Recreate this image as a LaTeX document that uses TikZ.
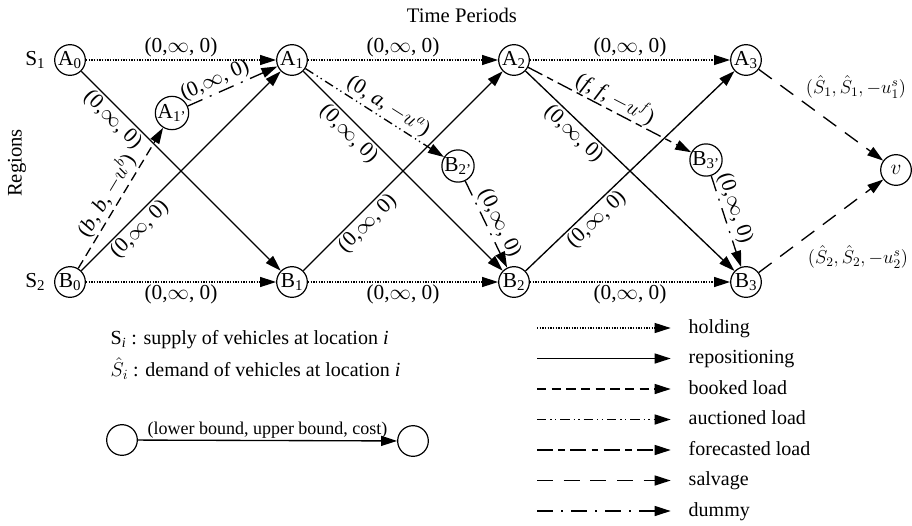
\RequirePackage{fix-cm}
\documentclass[tikz,border=0pt]{standalone}
\usepackage{fontspec}
\setmainfont{Liberation Serif}
\usetikzlibrary{arrows.meta,positioning}
\tikzset{
  st/.style={circle,draw,line width=0.9pt,minimum size=23pt,inner sep=0pt,
             font=\fontsize{16}{18}\selectfont},
  hold/.style={->,line width=0.9pt,dash pattern=on 1pt off 1pt},
  rep/.style={->,line width=1pt},
  book/.style={->,line width=1pt,dash pattern=on 7pt off 4pt},
  auct/.style={->,line width=1pt,dash pattern=on 7pt off 3pt on 1pt off 2.5pt on 1pt off 3pt},
  fcst/.style={->,line width=1pt,dash pattern=on 12pt off 4pt on 5pt off 4pt},
  salv/.style={->,line width=1pt,dash pattern=on 12pt off 8pt},
  dumm/.style={->,line width=1pt,dash pattern=on 12pt off 6pt on 1.5pt off 6pt},
}

\begin{document}
\begin{tikzpicture}[x=0.75pt,y=-0.75pt,>={Triangle[length=12pt,width=7.5pt]},
  lbl/.style={font=\fontsize{16}{18}\selectfont,inner sep=1.5pt},
  txt/.style={font=\fontsize{15}{17}\selectfont},
  key/.style={txt,anchor=west,text height=10.5pt,text depth=3pt}]
  \useasboundingbox (0,0) rectangle (912,525);
  \node[font=\fontsize{15.5}{18}\selectfont] (time) at (462,15) {Time Periods};
  \node[font=\fontsize{15.5}{18}\selectfont,rotate=90] (reg) at (17,163) {Regions};
  \node[st] (a0) at (70,60) {A\textsubscript{0}};
  \node[st] (a1) at (292,60) {A\textsubscript{1}};
  \node[st] (a2) at (514,60) {A\textsubscript{2}};
  \node[st] (a3) at (746,60) {A\textsubscript{3}};
  \node[st] (b0) at (70,282) {B\textsubscript{0}};
  \node[st] (b1) at (292,282) {B\textsubscript{1}};
  \node[st] (b2) at (514,282) {B\textsubscript{2}};
  \node[st] (b3) at (746,282) {B\textsubscript{3}};
  \node[st,minimum size=20pt] (a1p) at (172,113) {A\textsubscript{1'}};
  \node[st,minimum size=21pt] (b2p) at (458,166) {B\textsubscript{2'}};
  \node[st,minimum size=21pt] (b3p) at (706,160) {B\textsubscript{3'}};
  \node[st] (v) at (896,170) {$v$};
  \node[font=\fontsize{16}{18}\selectfont,left=3pt of a0] (s1) {S\textsubscript{1}};
  \node[font=\fontsize{16}{18}\selectfont,left=3pt of b0] (s2) {S\textsubscript{2}};
  \draw[hold] (a0) -- node[lbl,above] {(0,$\infty$, 0)} (a1);
  \draw[hold] (a1) -- node[lbl,above] {(0,$\infty$, 0)} (a2);
  \draw[hold] (a2) -- node[lbl,above] {(0,$\infty$, 0)} (a3);
  \draw[hold] (b0) -- node[lbl,below] {(0,$\infty$, 0)} (b1);
  \draw[hold] (b1) -- node[lbl,below] {(0,$\infty$, 0)} (b2);
  \draw[hold] (b2) -- node[lbl,below] {(0,$\infty$, 0)} (b3);
  \draw[rep] (a0) -- node[lbl,pos=0.2,sloped,below] {(0,$\infty$, 0)} (b1);
  \draw[rep] (b0) -- node[lbl,pos=0.25,sloped,below] {(0,$\infty$, 0)} (a1);
  \draw[rep] (a1) -- node[lbl,pos=0.27,sloped,below] {(0,$\infty$, 0)} (b2);
  \draw[rep] (b1) -- node[lbl,pos=0.28,sloped,below] {(0,$\infty$, 0)} (a2);
  \draw[rep] (a2) -- node[lbl,pos=0.27,sloped,below] {(0,$\infty$, 0)} (b3);
  \draw[rep] (b2) -- node[lbl,pos=0.3,sloped,below] {(0,$\infty$, 0)} (a3);
  \draw[book] (b0) -- node[lbl,pos=0.47,sloped,above] {(\textit{b}, \textit{b}, $-u^{b}$)} (a1p);
  \draw[dumm] (a1p) -- node[lbl,pos=0.36,sloped,above] {(0,$\infty$, 0)} (a1);
  \draw[auct] (a1) -- node[lbl,pos=0.55,sloped,above] {(0, \textit{a}, $-u^{a}$)} (b2p);
  \draw[dumm] (b2p) -- node[lbl,pos=0.55,sloped,above] {(0,$\infty$, 0)} (b2);
  \draw[fcst] (a2) -- node[lbl,pos=0.5,sloped,above,inner sep=0.5pt] {(\textit{f}, \textit{f}, $-u^{f}$)} (b3p);
  \draw[dumm] (b3p) -- node[lbl,pos=0.4,sloped,above] {(0,$\infty$, 0)} (b3);
  \draw[salv] (a3) -- (v);
  \draw[salv] (b3) -- (v);
  \node[lbl,font=\fontsize{14}{16}\selectfont] (ls1) at (856,87) {$(\hat{S}_1,\hat{S}_1,-u^{s}_1)$};
  \node[lbl,font=\fontsize{14}{16}\selectfont] (ls2) at (858,257) {$(\hat{S}_2,\hat{S}_2,-u^{s}_2)$};
  \node[txt,anchor=west] (ksup) at (106,340) {S\textsubscript{\textit{i}} : supply of vehicles at location \textit{i}};
  \node[txt,anchor=west] (kdem) at (106,369) {$\hat{S}_i$ : demand of vehicles at location \textit{i}};
  \node[st] (klo) at (122,440) {};
  \node[st] (khi) at (413,441) {};
  \draw[rep] (klo) -- node[above,font=\fontsize{13.5}{15}\selectfont,inner sep=1pt] {(lower bound, upper bound, cost)} (khi);
  \node[key] (khold) at (684,328) {holding};
  \node[key] (krep) at (684,358.5) {repositioning};
  \node[key] (kbook) at (684,389) {booked load};
  \node[key] (kauct) at (684,419.5) {auctioned load};
  \node[key] (kfcst) at (684,450) {forecasted load};
  \node[key] (ksalv) at (684,480.5) {salvage};
  \node[key] (kdumm) at (684,511) {dummy};
  \coordinate (chold) at (537,328);
  \coordinate (crep) at (537,358.5);
  \coordinate (cbook) at (537,389);
  \coordinate (cauct) at (537,419.5);
  \coordinate (cfcst) at (537,450);
  \coordinate (csalv) at (537,480.5);
  \coordinate (cdumm) at (537,511);
  \draw[hold,shorten >=10pt] (chold) -- (khold);
  \draw[rep,shorten >=10pt] (crep) -- (krep);
  \draw[book,shorten >=10pt] (cbook) -- (kbook);
  \draw[auct,shorten >=10pt] (cauct) -- (kauct);
  \draw[fcst,shorten >=10pt] (cfcst) -- (kfcst);
  \draw[salv,shorten >=10pt] (csalv) -- (ksalv);
  \draw[dumm,shorten >=10pt] (cdumm) -- (kdumm);
\end{tikzpicture}
\end{document}
